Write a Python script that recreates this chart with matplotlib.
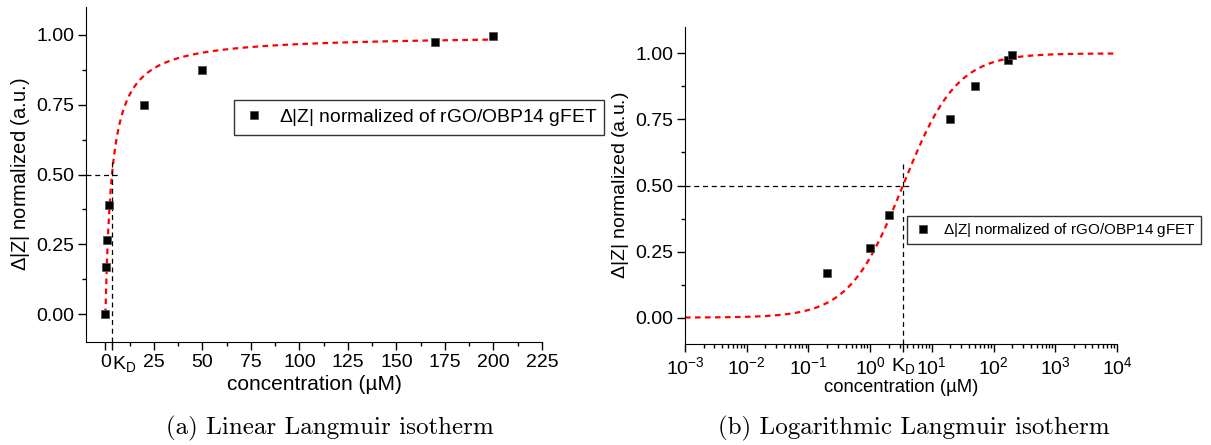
import numpy as np
import matplotlib
matplotlib.use('Agg')
import matplotlib.pyplot as plt
from matplotlib.ticker import MultipleLocator, LogLocator, NullFormatter

plt.rcParams['font.family'] = ['Liberation Sans', 'DejaVu Sans']
plt.rcParams['mathtext.fontset'] = 'custom'
plt.rcParams['mathtext.rm'] = 'Liberation Sans'

# measured points: concentration (uM) vs normalized delta |Z|
conc_lin = [0.0, 0.2, 1.0, 2.0, 20.0, 50.0, 170.0, 200.0]
resp_lin = [0.0, 0.17, 0.265, 0.39, 0.75, 0.875, 0.975, 0.995]
conc_log = [0.2, 1.0, 2.0, 20.0, 50.0, 170.0, 200.0]
resp_log = [0.17, 0.265, 0.39, 0.75, 0.875, 0.975, 0.995]

KD = 3.4  # dissociation constant from the Langmuir fit (uM)
lin_ticks = [0, 25, 50, 75, 100, 125, 150, 175, 200, 225]
log_ticks = [1e-3, 1e-2, 1e-1, 1e0, 1e1, 1e2, 1e3, 1e4]
y_ticks = [0.0, 0.25, 0.5, 0.75, 1.0]

legend_label = r'$\Delta$|Z| normalized of rGO/OBP14 gFET'
ylab = r'$\Delta$|Z| normalized (a.u.)'
kd_label = r'$\mathregular{K_D}$'


def langmuir(c):
    return c / (KD + c)


def style_axes(ax):
    for s in ['top', 'right']:
        ax.spines[s].set_visible(False)
    ax.tick_params(which='major', direction='out', length=5.5, width=1, labelsize=14, pad=3)
    ax.tick_params(which='minor', direction='out', length=3, width=1)
    ax.set_ylim(-0.1, 1.1)
    ax.set_yticks(y_ticks)
    ax.set_yticklabels(['%.2f' % v for v in y_ticks])
    ax.yaxis.set_minor_locator(MultipleLocator(0.125))


fig = plt.figure(figsize=(12.11, 4.45), dpi=100)

# (a) linear
ax1 = fig.add_axes([86 / 1211, 1 - 342 / 445, 456 / 1211, 335 / 445])
style_axes(ax1)
c_fit = np.linspace(0, 200, 600)
ax1.plot(c_fit, langmuir(c_fit), color='red', ls=(0, (2.5, 2)), lw=1.6, zorder=2)
ax1.plot(conc_lin, resp_lin, 's', color='black', mec='#555555', mew=0.6, ms=6.2,
         label=legend_label, zorder=3)
ax1.plot([-10, 7.7], [0.5, 0.5], color='black', ls=(0, (4, 3)), lw=0.9)
ax1.plot([KD, KD], [-0.1, 0.545], color='black', ls=(0, (4, 3)), lw=0.9)
ax1.set_xlim(-10, 225)
ax1.set_xticks([0, KD] + lin_ticks[1:])
ax1.set_xticklabels(['0', kd_label] + [str(v) for v in lin_ticks[1:]])
ax1.get_xticklabels()[1].set_horizontalalignment('left')
ax1.xaxis.set_minor_locator(MultipleLocator(12.5))
ax1.set_xlabel('concentration (µM)', fontsize=15, labelpad=1)
ax1.set_ylabel(ylab, fontsize=14.5, labelpad=3)
leg1 = fig.legend(*ax1.get_legend_handles_labels(), loc='center',
                  bbox_to_anchor=(419 / 1211, 1 - 117.5 / 445), fontsize=13.9,
                  fancybox=False, frameon=True, edgecolor='black', borderpad=0.35,
                  handletextpad=0.6, handlelength=1.4)
leg1.get_frame().set_linewidth(1.0)

# (b) logarithmic
ax2 = fig.add_axes([685 / 1211, 1 - 344 / 445, 432 / 1211, 317 / 445])
style_axes(ax2)
ax2.set_xscale('log')
c_fit2 = np.logspace(-3, 4, 600)
ax2.plot(c_fit2, langmuir(c_fit2), color='red', ls=(0, (2.5, 2)), lw=1.6, zorder=2)
ax2.plot(conc_log, resp_log, 's', color='black', mec='#555555', mew=0.6, ms=6.2,
         label=legend_label, zorder=3)
ax2.plot([1e-3, 4.4], [0.5, 0.5], color='black', ls=(0, (4, 3)), lw=0.9)
ax2.plot([KD, KD], [-0.1, 0.585], color='black', ls=(0, (4, 3)), lw=0.9)
ax2.set_xlim(1e-3, 1e4)
ax2.set_xticks(log_ticks[:4] + [KD] + log_ticks[4:])
ax2.set_xticklabels([r'$\mathregular{10^{%d}}$' % int(np.log10(v)) for v in log_ticks[:4]]
                    + [kd_label]
                    + [r'$\mathregular{10^{%d}}$' % int(np.log10(v)) for v in log_ticks[4:]])
ax2.xaxis.set_minor_locator(LogLocator(base=10, subs=np.arange(2, 10), numticks=20))
ax2.xaxis.set_minor_formatter(NullFormatter())
ax2.set_xlabel('concentration (µM)', fontsize=13.3, labelpad=1)
ax2.set_ylabel(ylab, fontsize=14, labelpad=3)
leg2 = fig.legend(*ax2.get_legend_handles_labels(), loc='center left',
                  bbox_to_anchor=(907 / 1211, 1 - 230 / 445), fontsize=11,
                  fancybox=False, frameon=True, edgecolor='black', borderpad=0.35,
                  borderaxespad=0, handletextpad=0.6, handlelength=1.4)
leg2.get_frame().set_linewidth(1.0)

# captions
fig.text(330 / 1211, 1 - 428 / 445, '(a) Linear Langmuir isotherm', ha='center', va='center',
         fontsize=18, family='cmr10')
fig.text(914 / 1211, 1 - 428 / 445, '(b) Logarithmic Langmuir isotherm', ha='center',
         va='center', fontsize=18, family='cmr10')

fig.savefig('out.png', dpi=100)
